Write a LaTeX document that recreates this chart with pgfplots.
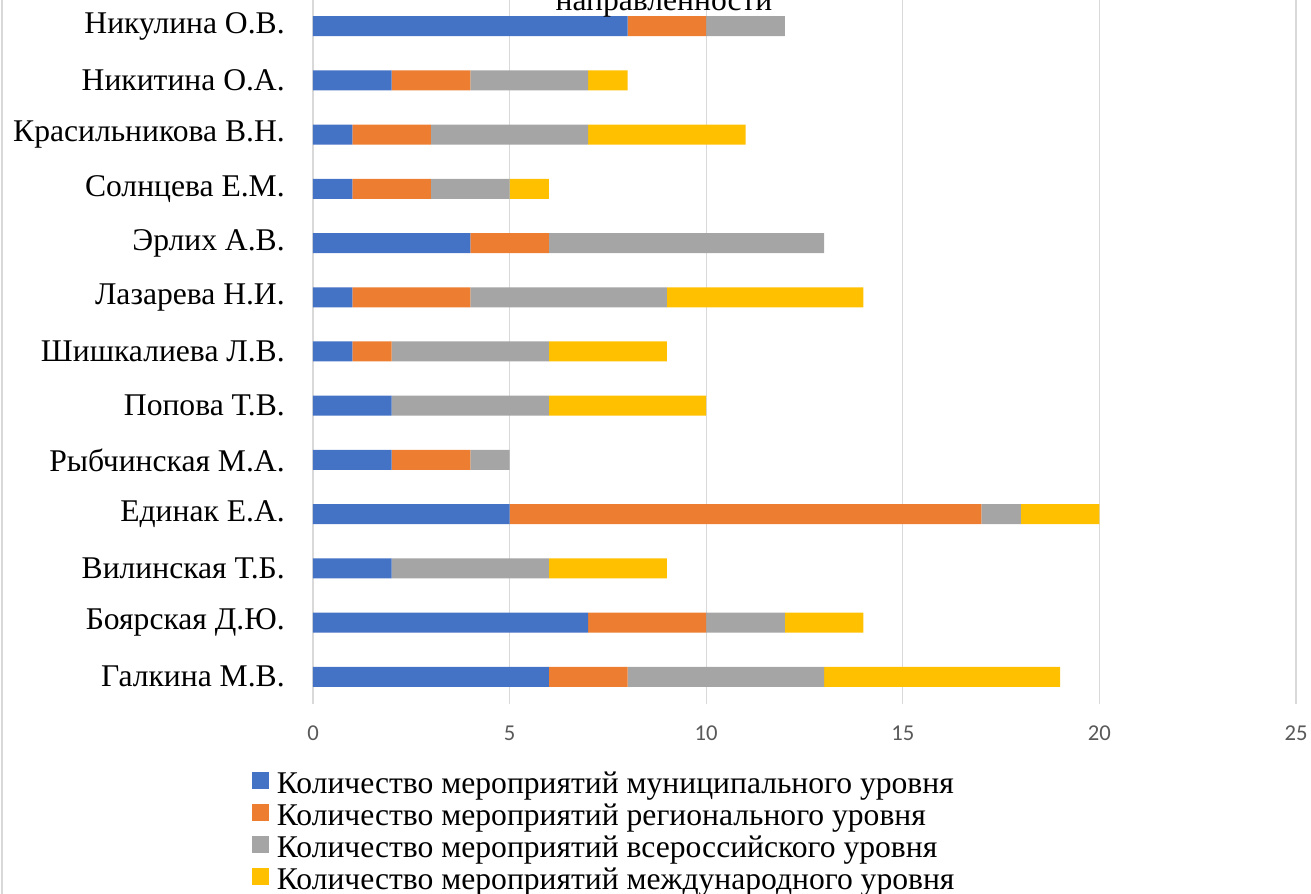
\documentclass[border=0pt]{standalone}
\usepackage{fontspec}
\setmainfont{Liberation Serif}
\newfontfamily\carlito{Carlito}
\usepackage{pgfplots}
\usepackage{pgfplotstable}
\pgfplotsset{compat=1.18}

\definecolor{cblue}{HTML}{4472C4}
\definecolor{corange}{HTML}{ED7D31}
\definecolor{cgray}{HTML}{A5A5A5}
\definecolor{cyellow}{HTML}{FFC000}
\definecolor{gridgray}{HTML}{D9D9D9}
\definecolor{tickgray}{HTML}{595959}

% y: 0 = Галкина (bottom) ... 12 = Никулина (top)
\pgfplotstableread{
y  mun reg vse mezh
0  6   2   5   6
1  7   3   2   2
2  2   0   4   3
3  5   12  1   2
4  2   2   1   0
5  2   0   4   4
6  1   1   4   3
7  1   3   5   5
8  4   2   7   0
9  1   2   2   1
10 1   2   4   4
11 2   2   3   1
12 8   2   2   0
}\datatable

\begin{document}
\begin{tikzpicture}
\begin{axis}[
  name=ax,
  scale only axis,
  width=737.25pt, height=528.75pt,
  xbar stacked, bar width=15pt,
  xmin=0, xmax=25, ymin=-0.5, ymax=12.5,
  xtick={0,5,10,15,20,25},
  ytick={0,1,2,3,4,5,6,7,8,9,10,11,12},
  yticklabels={Галкина М.В., Боярская Д.Ю., Вилинская Т.Б., Единак Е.А., Рыбчинская М.А., Попова Т.В., Шишкалиева Л.В., Лазарева Н.И., Эрлих А.В., Солнцева Е.М., Красильникова В.Н., Никитина О.А., Никулина О.В.},
  xmajorgrids,
  grid style={draw=gridgray, line width=0.9pt},
  axis line style={draw=none},
  major tick length=0pt,
  /pgf/number format/assume math mode=true,
  xticklabel style={font=\carlito\fontsize{17}{17}\selectfont, text=tickgray, anchor=center, yshift=-21.75pt},
  yticklabel style={font=\fontsize{23.7}{24}\selectfont, anchor=east, inner sep=0pt, xshift=-21pt},
  legend style={
    at={(axis description cs:-0.0621,-0.0858)}, anchor=north west,
    draw=none, fill=none, inner sep=0pt, row sep=0pt,
    font=\fontsize{23.7}{24}\selectfont,
    nodes={inner sep=0pt, text height=21.4pt, text depth=2.6pt},
  },
  legend cell align=left,
  legend image code/.code={\fill[#1] (0pt,-6.375pt) rectangle (12.75pt,6.375pt); \path (18.5pt,0pt);},
]
\addplot[fill=cblue, draw=none] table[x=mun, y=y]{\datatable};
\addlegendentry{Количество мероприятий муниципального уровня}
\addplot[fill=corange, draw=none] table[x=reg, y=y]{\datatable};
\addlegendentry{Количество мероприятий регионального уровня}
\addplot[fill=cgray, draw=none] table[x=vse, y=y]{\datatable};
\addlegendentry{Количество мероприятий всероссийского уровня}
\addplot[fill=cyellow, draw=none] table[x=mezh, y=y]{\datatable};
\addlegendentry{Количество мероприятий международного уровня}
\end{axis}
\node[font=\fontsize{23.7}{24}\selectfont, anchor=base] at ([xshift=263.25pt, yshift=-9pt]ax.north west) {направленности};
\draw[gridgray, line width=1.1pt] ([xshift=-233.25pt, yshift=-150pt]ax.south west) -- ([xshift=-233.25pt, yshift=5pt]ax.north west);
\pgfresetboundingbox
\path[use as bounding box] ([xshift=-234.75pt, yshift=-142.5pt]ax.south west) rectangle ([xshift=748.5pt, yshift=-0.75pt]ax.north west);
\end{tikzpicture}
\end{document}
